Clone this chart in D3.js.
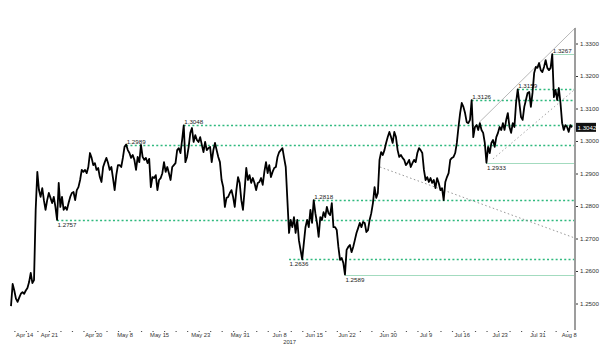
<!DOCTYPE html>
<html>
<head>
<meta charset="utf-8">
<script src="https://cdn.jsdelivr.net/npm/d3@7"></script>
<style>
body { margin: 0; background: #fff; }
svg { display: block; font-family: "Liberation Sans", Arial, sans-serif; }
</style>
</head>
<body>
<svg></svg>
<script>
// GBP/USD, one value per trading session slot, Apr 13 -> Aug 9 2017
let prices = [
  1.2492,1.2560,1.2540,1.2515,1.2505,1.2518,1.2530,1.2535,1.2530,1.2540,1.2548,1.2566,1.2594,1.2563,1.2572,
  1.2788,1.2905,1.2849,1.2828,1.2855,1.2818,1.2788,1.2818,1.2840,1.2825,1.2809,1.2828,1.2797,1.2757,1.2871,1.2797,1.2828,1.2788,1.2797,1.2788,
  1.2809,1.2828,1.2840,1.2843,1.2818,1.2849,1.2858,1.2880,1.2911,1.2905,1.2911,1.2901,1.2920,1.2963,1.2948,1.2926,1.2932,1.2911,1.2917,1.2889,
  1.2874,1.2920,1.2935,1.2948,1.2932,1.2911,1.2920,1.2886,1.2849,1.2895,1.2926,1.2926,
  1.2920,1.2948,1.2982,1.2989,1.2972,1.2963,1.2948,1.2957,1.2942,1.2911,1.2951,1.2935,1.2988,1.2951,1.2942,1.2948,1.2932,1.2945,1.2858,1.2889,
  1.2886,1.2895,1.2849,1.2880,1.2886,1.2901,1.2935,1.2905,1.2920,1.2901,1.2880,1.2920,1.2926,1.2932,1.2972,1.2978,1.2963,1.3003,1.3048,1.2935,
  1.2951,1.2982,1.3025,1.3040,1.2997,1.3018,1.3003,1.2997,1.3012,1.2988,1.2966,1.2997,1.2972,1.2978,1.2982,1.2935,1.2972,1.2994,1.2972,1.2951,
  1.2935,1.2880,1.2858,1.2797,1.2825,1.2828,1.2840,1.2849,1.2828,1.2797,
  1.2849,1.2889,1.2871,1.2818,1.2788,1.2849,1.2917,1.2880,1.2895,1.2871,1.2886,1.2871,1.2849,1.2871,1.2874,1.2886,1.2865,1.2905,1.2935,1.2901,
  1.2926,1.2889,1.2905,1.2917,1.2920,1.2951,1.2966,1.2972,1.2978,1.2948,1.2920,1.2818,1.2717,1.2757,1.2735,1.2766,1.2717,1.2757,1.2695,1.2665,
  1.2636,1.2686,1.2735,1.2757,1.2735,1.2788,1.2748,1.2818,1.2778,1.2748,1.2705,1.2766,1.2757,1.2781,1.2766,1.2797,1.2778,1.2772,1.2809,1.2735,
  1.2735,1.2726,1.2674,1.2634,1.2640,1.2625,1.2589,1.2665,1.2674,1.2680,
  1.2658,1.2674,1.2695,1.2717,1.2732,1.2748,1.2735,1.2751,1.2748,1.2720,1.2726,1.2757,1.2778,1.2809,1.2858,1.2825,1.2840,1.2942,1.2966,1.2957,
  1.2972,1.2994,1.3012,1.3028,1.3012,1.2994,1.3028,1.3012,1.2972,1.2951,1.2957,1.2948,1.2942,1.2926,1.2932,1.2942,1.2920,1.2932,1.2942,1.2935,
  1.2963,1.2978,1.2972,1.2963,1.2911,1.2880,1.2889,1.2874,1.2886,1.2871,1.2880,1.2855,1.2886,1.2871,1.2849,1.2855,1.2818,1.2874,1.2889,1.2901,
  1.2942,1.2948,1.2951,1.2963,1.2994,1.3043,1.3086,1.3117,1.3105,1.3086,
  1.3058,1.3055,1.3065,1.3126,1.3012,1.3043,1.3049,1.3034,1.3055,1.3034,1.3025,1.2994,1.2933,1.2982,1.2963,1.2994,1.3003,1.2982,1.3012,1.3025,
  1.3043,1.3034,1.3055,1.3034,1.3065,1.3086,1.3043,1.3025,1.3055,1.3043,1.3117,1.3159,1.3117,1.3074,1.3065,1.3105,1.3126,1.3148,1.3151,1.3105,
  1.3148,1.3209,1.3228,1.3225,1.3240,1.3218,1.3212,1.3228,1.3249,1.3225,1.3218,1.3225,1.3267,1.3135,1.3157,1.3126,1.3163,1.3117,1.3055,1.3034,
  1.3049,1.3043,1.3028,1.3049,1.3042
]

let dateLabels = ['Apr 14','Apr 21','Apr 30','May 8','May 15','May 23','May 31','Jun 8',
                  'Jun 15','Jun 22','Jun 30','Jul 9','Jul 16','Jul 23','Jul 31','Aug 8']
let dateIdx = [8, 23, 50, 69, 90, 115, 139, 163, 184, 204, 229, 252, 274, 297, 320, 339]

let priceTicks = [1.25, 1.26, 1.27, 1.28, 1.29, 1.30, 1.31, 1.32, 1.33]

// horizontal support / resistance levels and the session where they start
let keyLevels = [1.2757, 1.2989, 1.3048, 1.2636, 1.2818, 1.3126, 1.3159]
let keyStart  = [28, 70, 105, 169, 184, 280, 308]
let swingLevels = [1.2589, 1.2933, 1.3267]
let swingStart  = [203, 289, 329]

// trend lines [session, price]
let channelTop = [[284.5, 1.3057], [343, 1.3348]]
let channelBottom = [[293, 1.2945], [343, 1.3160]]
let fallingLine = [[224.3, 1.2920], [343, 1.2701]]

let lastPrice = 1.3042

let width = 600
let height = 349
let axisX = 575

let svg = d3.select('svg').attr('width', width).attr('height', height)

let xScale = d3.scaleLinear().domain([0, prices.length - 1]).range([11, 572])
let yScale = d3.scaleLinear().domain([1.25, 1.33]).range([303.5, 43.5])

let fmt = d3.format('.4f')
let crisp = v => Math.round(v) + 0.5

let drawLevels = () => {
  let draw = (levels, starts, solid) => {
    levels.forEach((lv, i) => {
      let s = starts[i]
      let before = d3.mean(prices.slice(Math.max(0, s - 10), s))
      let below = lv < before
      let y = crisp(yScale(lv))
      svg.append('line')
         .attr('x1', xScale(s)).attr('x2', axisX)
         .attr('y1', y).attr('y2', y)
         .attr('stroke', solid ? '#a3dbbf' : '#2fb97e')
         .attr('stroke-width', solid ? 1 : 1.3)
         .attr('stroke-dasharray', solid ? null : '2,2.3')
      svg.append('text')
         .attr('x', xScale(s) + 0.5)
         .attr('y', below ? y + 6.6 : y - 1.6)
         .attr('font-size', 6.2)
         .attr('fill', '#222')
         .text(fmt(lv))
    })
  }
  draw(keyLevels, keyStart, false)
  draw(swingLevels, swingStart, true)
}

let drawTrends = () => {
  let line = d3.line().x(d => xScale(d[0])).y(d => yScale(d[1]))
  svg.append('path').attr('d', line(channelTop))
     .attr('fill', 'none').attr('stroke', '#b0b0b0').attr('stroke-width', 0.9)
  svg.append('path').attr('d', line(channelBottom))
     .attr('fill', 'none').attr('stroke', '#9a9a9a').attr('stroke-width', 0.9)
     .attr('stroke-dasharray', '1.5,2.5')
  svg.append('path').attr('d', line(fallingLine))
     .attr('fill', 'none').attr('stroke', '#8a8a8a').attr('stroke-width', 0.9)
     .attr('stroke-dasharray', '1.5,2.5')
}

let drawPrice = () => {
  let line = d3.line().x((d, i) => xScale(i)).y(d => yScale(d))
  svg.append('path')
     .attr('d', line(prices))
     .attr('fill', 'none')
     .attr('stroke', '#000')
     .attr('stroke-width', 1.8)
     .attr('stroke-linejoin', 'round')
}

let drawAxes = () => {
  // right price axis
  svg.append('line')
     .attr('x1', axisX).attr('x2', axisX)
     .attr('y1', 28).attr('y2', 330)
     .attr('stroke', '#9d9d9d').attr('stroke-width', 2)

  let yAxis = d3.axisRight(yScale).tickValues(priceTicks).tickFormat(fmt).tickSize(2).tickPadding(2)
  let gy = svg.append('g')
     .attr('transform', 'translate(' + (axisX + 1) + ',0)')
     .call(yAxis)
  gy.select('.domain').remove()
  gy.selectAll('line').attr('stroke', '#333')
  gy.selectAll('text').attr('font-size', 6.2).attr('fill', '#333').attr('font-family', null)

  // last price tag
  let yl = yScale(lastPrice)
  svg.append('rect')
     .attr('x', axisX + 1).attr('y', yl - 4.5)
     .attr('width', 20).attr('height', 9)
     .attr('fill', '#111')
  svg.append('text')
     .attr('x', axisX + 2.5).attr('y', yl + 2.2)
     .attr('font-size', 6.2).attr('fill', '#fff')
     .text(fmt(lastPrice))

  // bottom date axis
  let xAxis = d3.axisBottom(xScale).tickValues(dateIdx)
                .tickFormat((d, i) => dateLabels[i]).tickSize(0).tickPadding(2)
  let gx = svg.append('g')
     .attr('transform', 'translate(0,331)')
     .call(xAxis)
  gx.select('.domain').remove()
  gx.selectAll('text').attr('font-size', 5.8).attr('fill', '#333').attr('font-family', null)

  svg.selectAll('.minor')
     .data(d3.range(2, prices.length, 7))
     .enter()
     .append('line')
     .attr('class', 'minor')
     .attr('x1', d => xScale(d)).attr('x2', d => xScale(d) + 1.2)
     .attr('y1', 331.5).attr('y2', 331.5)
     .attr('stroke', '#555').attr('stroke-width', 1)

  svg.append('text')
     .attr('x', xScale(dateIdx[7]) + 4).attr('y', 344)
     .attr('font-size', 5.8).attr('fill', '#333')
     .text('2017')
}

drawLevels()
drawTrends()
drawPrice()
drawAxes()
</script>
</body>
</html>
